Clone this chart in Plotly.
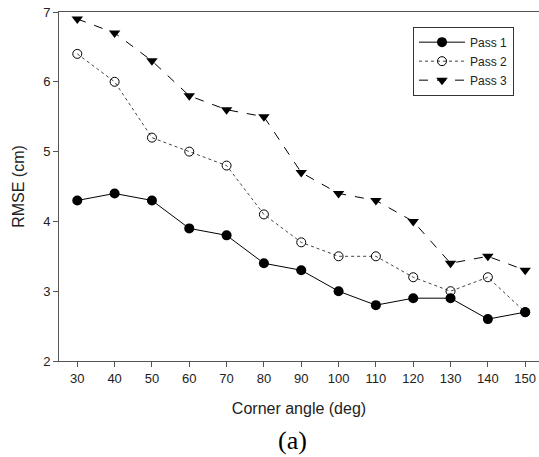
import plotly.graph_objects as go

angles = [30, 40, 50, 60, 70, 80, 90, 100, 110, 120, 130, 140, 150]
pass1 = [4.3, 4.4, 4.3, 3.9, 3.8, 3.4, 3.3, 3.0, 2.8, 2.9, 2.9, 2.6, 2.7]
pass2 = [6.4, 6.0, 5.2, 5.0, 4.8, 4.1, 3.7, 3.5, 3.5, 3.2, 3.0, 3.2, 2.7]
pass3 = [6.9, 6.7, 6.3, 5.8, 5.6, 5.5, 4.7, 4.4, 4.3, 4.0, 3.4, 3.5, 3.3]
x_ticks = [30, 40, 50, 60, 70, 80, 90, 100, 110, 120, 130, 140, 150]
y_ticks = [2, 3, 4, 5, 6, 7]

fig = go.Figure()
fig.add_trace(go.Scatter(x=angles, y=pass1, name="Pass 1", mode="lines+markers",
                         line=dict(color="black", width=1, dash="solid"),
                         marker=dict(symbol="circle", size=10, color="black")))
fig.add_trace(go.Scatter(x=angles, y=pass2, name="Pass 2", mode="lines+markers",
                         line=dict(color="#444444", width=1, dash="dot"),
                         marker=dict(symbol="circle-open", size=9, color="black",
                                     line=dict(width=1, color="black"))))
fig.add_trace(go.Scatter(x=angles, y=pass3, name="Pass 3", mode="lines+markers",
                         line=dict(color="black", width=1, dash="dash"),
                         marker=dict(symbol="triangle-down", size=10, color="black")))

font = dict(family="Liberation Sans, Arial, sans-serif", size=13, color="#222222")
fig.update_layout(
    width=539, height=457,
    margin=dict(l=59, r=0, t=12, b=96),
    paper_bgcolor="white", plot_bgcolor="white",
    font=font,
    showlegend=True,
    legend=dict(x=0.7375, y=0.958, xanchor="left", yanchor="top",
                bordercolor="#333333", borderwidth=1, bgcolor="white",
                font=dict(size=12), tracegroupgap=0, itemwidth=46),
    xaxis=dict(range=[25.1, 153.7], tickvals=x_ticks, ticks="outside", ticklen=5,
               tickcolor="#555555", showline=True, linecolor="#555555", linewidth=1,
               mirror=True, showgrid=False, zeroline=False, automargin=False,
               tickfont=dict(size=13),
               title=dict(text="Corner angle (deg)", standoff=18, font=dict(size=16))),
    yaxis=dict(range=[2, 7], tickvals=y_ticks, ticks="outside", ticklen=5,
               tickcolor="#555555", showline=True, linecolor="#555555", linewidth=1,
               showgrid=False, zeroline=False, automargin=False,
               tickfont=dict(size=13),
               title=dict(text="RMSE (cm)", standoff=14, font=dict(size=16))),
    annotations=[dict(text="(a)", x=(292 - 59) / 480, y=-(440 - 361) / 348.5,
                      xref="paper", yref="paper",
                      xanchor="center", yanchor="middle", showarrow=False,
                      font=dict(family="Liberation Serif, Times New Roman, serif", size=26, color="black"))],
)

fig.write_html("out.html", config={"displayModeBar": False},
               post_script="document.body.style.margin='0';")
